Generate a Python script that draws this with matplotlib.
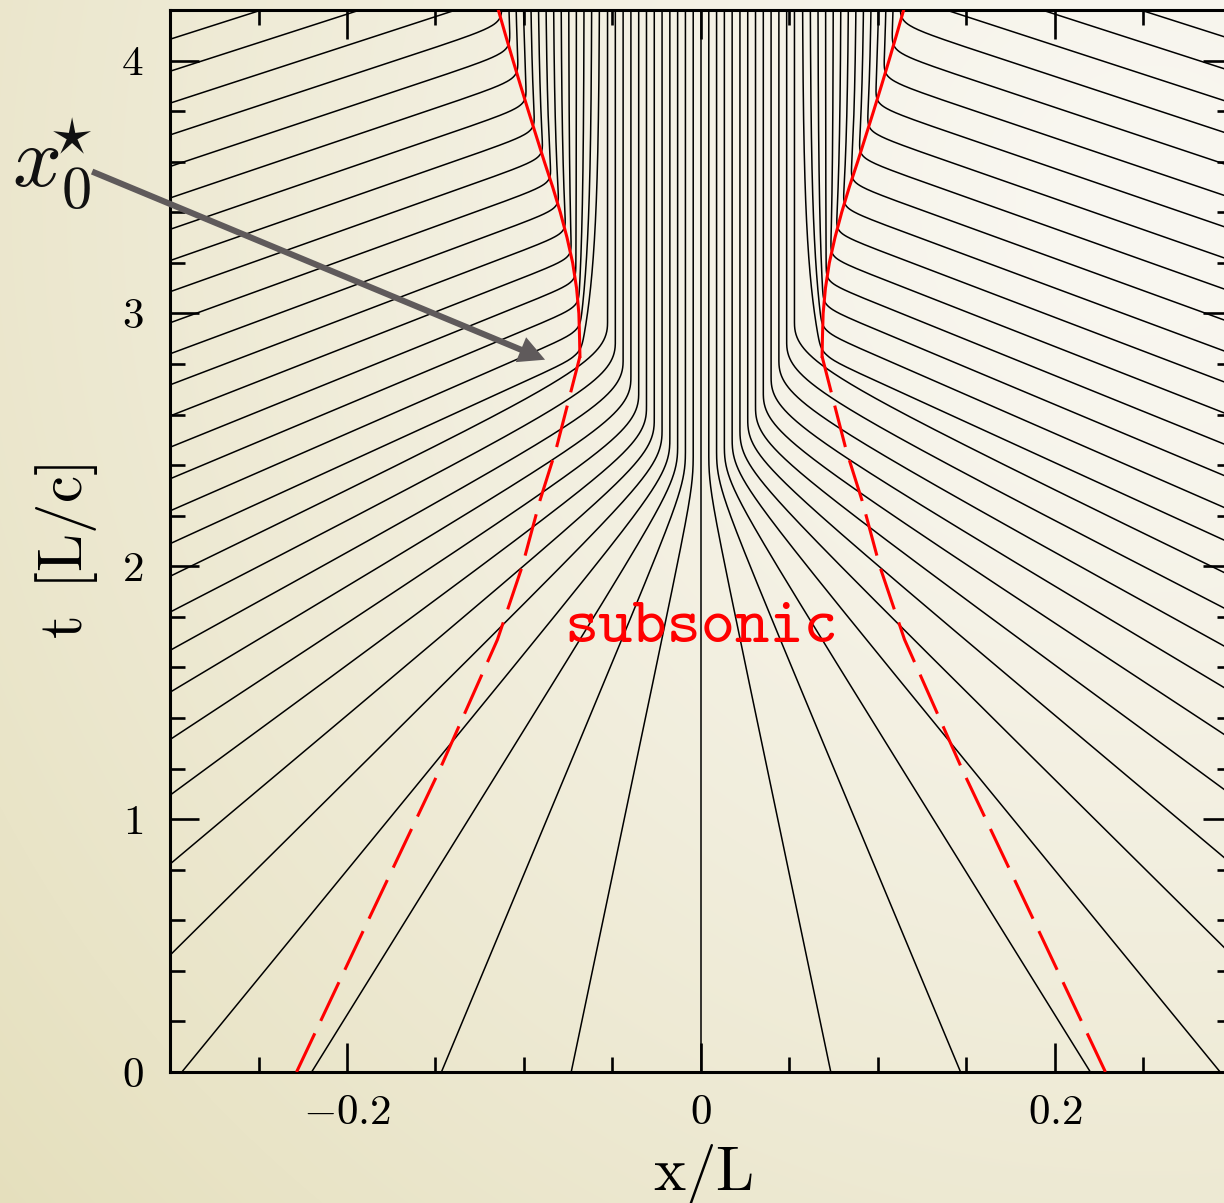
import numpy as np
import matplotlib
matplotlib.use("Agg")
import matplotlib.pyplot as plt

plt.rcParams["mathtext.fontset"] = "cm"
plt.rcParams["font.family"] = "serif"
plt.rcParams["font.serif"] = ["cmr10", "DejaVu Serif"]
plt.rcParams["axes.unicode_minus"] = False

# ---------------------------------------------------------------- data
# Lagrangian labels of the fluid elements that are followed
element_index = np.arange(-32, 33)
initial_spacing = 0.0733      # x/L between neighbouring elements at t = 0
infall_slope = 0.41           # dv/dx of the initial inflow near the centre
infall_scale = 1.27           # x/L beyond which the inflow speed saturates
core_spacing = 0.0044         # spacing of elements settled in the subsonic core
settle_time = 0.35            # post-shock relaxation time [L/c]

# sonic point (dashed) and shock front (solid): |x|/L against t
sonic_t = [0.0, 0.6, 1.19, 1.71, 2.0, 2.26, 2.46, 2.65, 2.83]
sonic_x = [0.2285, 0.188, 0.148, 0.115, 0.101, 0.091, 0.082, 0.075, 0.0684]
shock_t = [2.83, 2.9, 3.0, 3.1, 3.2, 3.3, 3.4, 3.5, 3.6, 3.7, 3.8, 3.9, 4.0, 4.1, 4.2]
shock_x = [0.0684, 0.0686, 0.069, 0.0703, 0.0725, 0.0757, 0.0795, 0.0838, 0.0885,
           0.0930, 0.0975, 0.1019, 0.1062, 0.1104, 0.1145]

x_major = [-0.2, 0.0, 0.2]
x_major_labels = [r"$-0.2$", r"$0$", r"$0.2$"]
y_major = [0, 1, 2, 3, 4]
y_major_labels = [r"$0$", r"$1$", r"$2$", r"$3$", r"$4$"]

arrow_tail = (-0.344, 3.561)
arrow_head = (-0.0881, 2.817)

# ---------------------------------------------------------------- figure
W, H = 1224, 1203
fig = plt.figure(figsize=(W / 100, H / 100), dpi=100)

# warm paper-like backdrop, lighter towards the upper right
yy, xx = np.mgrid[0:H, 0:W]
d = np.hypot(xx - 1150.0, yy - 200.0) / 1300.0
light = np.array([249, 247, 241]) / 255.0
dark = np.array([233, 228, 199]) / 255.0
f = np.clip(d, 0, 1.25)[..., None] ** 1.3
bg = np.clip(light + (dark - light) * f, 0, 1)
bg_ax = fig.add_axes([0, 0, 1, 1], zorder=-1)
bg_ax.imshow(bg, aspect="auto", extent=[0, 1, 0, 1], origin="upper")
bg_ax.set_axis_off()

ax = fig.add_axes([170 / W, (H - 1072) / H, (1232 - 170) / W, (1072 - 10) / H])
ax.set_facecolor("none")
ax.set_xlim(-0.3, 0.3)
ax.set_ylim(0, 4.2)

# ---------------------------------------------------------------- element paths
LW = 1.1
t = np.linspace(0.0, 4.2, 1500)
front = np.interp(t, shock_t, shock_x)
for k in element_index:
    if k == 0:
        ax.plot(np.zeros_like(t), t, color="k", lw=LW, zorder=2)
        continue
    x0 = abs(k) * initial_spacing
    v0 = infall_slope * x0 / np.sqrt(1.0 + (x0 / infall_scale) ** 2)
    free = np.clip(x0 - v0 * t, 0.0, None)
    x_final = abs(k) * core_spacing
    if (x0 - x_final) / v0 <= shock_t[0]:
        # gradual braking inside the subsonic region
        p = 2.5
        floor = np.full_like(t, x_final)
    else:
        # abrupt stop at the shock, then slow settling inside the core
        p = 14.0
        hit = np.nonzero((t >= shock_t[0]) & (free <= front))[0]
        if hit.size:
            t_hit, x_hit = t[hit[0]], front[hit[0]]
            after = np.clip(t - t_hit, 0.0, None)
            floor = x_final + (x_hit - x_final) * np.exp(-after / settle_time)
        else:
            floor = np.zeros_like(t)
    x = (free ** p + floor ** p) ** (1.0 / p)
    ax.plot(np.sign(k) * x, t, color="k", lw=LW, zorder=2)

# ---------------------------------------------------------------- sonic point and shock
sx = np.array(sonic_x)
hx = np.array(shock_x)
for s in (-1, 1):
    ax.plot(s * sx, sonic_t, color="#ff0000", lw=2.2,
            linestyle=(0, (14, 4.5)), zorder=3)
    ax.plot(s * hx, shock_t, color="#ff0000", lw=2.2, zorder=3)

ax.text(0.0, 1.70, "subsonic", color="#ff0000", fontsize=47,
        family="cmtt10", ha="center", va="baseline", zorder=4)

ax.annotate("", xy=arrow_head, xytext=arrow_tail, xycoords="data",
            arrowprops=dict(arrowstyle="simple,tail_width=0.22,head_width=0.97,head_length=0.94",
                            mutation_scale=20, color="#5f5a5b", lw=0,
                            shrinkA=0, shrinkB=0),
            annotation_clip=False, zorder=5)

# x_0^star label; the star is pulled back so it sits over the subscript
fig.text(12 / W, 1 - 186 / H, r"$x_0^{\!\!\!\star}$", fontsize=62, ha="left",
         va="baseline", color="#111111")

# ---------------------------------------------------------------- axes styling
ax.set_xticks(x_major, x_major_labels)
ax.set_xticks(np.arange(-0.3, 0.3001, 0.05), minor=True)
ax.set_yticks(y_major, y_major_labels)
ax.set_yticks(np.arange(0, 4.2001, 0.2), minor=True)
ax.tick_params(which="both", direction="in", top=True, right=True,
               width=1.9, color="k")
ax.tick_params(which="major", length=21)
ax.tick_params(which="minor", length=10.5)
ax.tick_params(axis="x", which="major", labelsize=31, pad=16)
ax.tick_params(axis="y", which="major", labelsize=31, pad=19)
for sp in ax.spines.values():
    sp.set_linewidth(2.2)

ax.set_xlabel(r"$\mathrm{x/L}$", fontsize=44)
ax.set_ylabel(r"$\mathrm{t\ \,[L/c]}$", fontsize=44)
ax.xaxis.set_label_coords(0.502, -0.066)
ax.yaxis.set_label_coords(-0.066, 0.49)

fig.savefig("out.png", dpi=100)
